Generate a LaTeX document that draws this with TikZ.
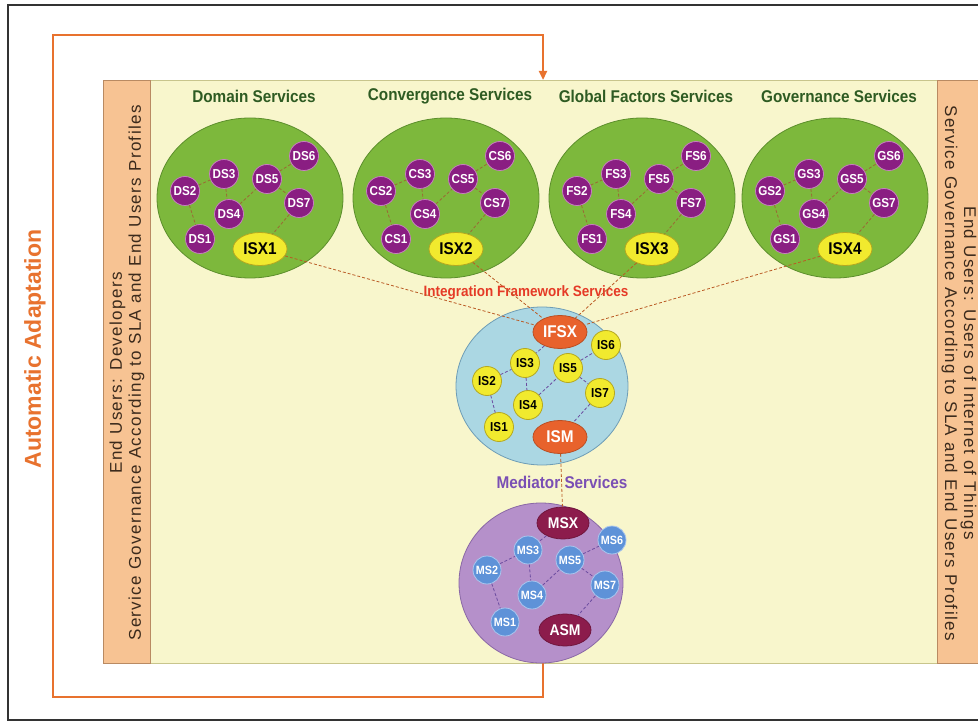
\documentclass[tikz,border=0pt]{standalone}
\usepackage{fontspec}
\setmainfont{Liberation Sans}
\newfontfamily\narrowfont[FakeStretch=0.9]{Liberation Sans}
\newfontfamily\barfont[LetterSpace=8]{Liberation Sans}
\usetikzlibrary{shapes.geometric,arrows.meta}

\definecolor{panelYellow}{HTML}{F8F6CC}
\definecolor{panelRim}{HTML}{C8C58C}
\definecolor{barPeach}{HTML}{F7C393}
\definecolor{barRim}{HTML}{B98A62}
\definecolor{barText}{HTML}{3B2A1C}
\definecolor{loopOrange}{HTML}{E8722E}
\definecolor{cloudGreen}{HTML}{7DB83C}
\definecolor{cloudRim}{HTML}{5C8E2C}
\definecolor{titleGreen}{HTML}{2E5B22}
\definecolor{dsPurple}{HTML}{8A1E82}
\definecolor{dsRim}{HTML}{C77FC0}
\definecolor{hubYellow}{HTML}{F1EA2E}
\definecolor{hubRim}{HTML}{B5A820}
\definecolor{intBlue}{HTML}{ABD7E3}
\definecolor{intRim}{HTML}{6E9DB6}
\definecolor{hubOrange}{HTML}{E8622C}
\definecolor{medPurple}{HTML}{B590CA}
\definecolor{medRim}{HTML}{8A68A6}
\definecolor{msBlue}{HTML}{5E92D8}
\definecolor{msRim}{HTML}{A9C6EE}
\definecolor{hubMaroon}{HTML}{8C1C4C}
\definecolor{linkBrown}{HTML}{9A6A35}
\definecolor{linkPurple}{HTML}{6C4CA0}
\definecolor{intRed}{HTML}{E53A26}
\definecolor{medText}{HTML}{7A4FB4}

\tikzset{
  svc/.style={circle,minimum size=29pt,inner sep=0pt,line width=0.8pt,
    font=\narrowfont\fontsize{13}{13}\selectfont\bfseries},
  dsnode/.style={svc,fill=dsPurple,draw=dsRim,text=white},
  isnode/.style={svc,fill=hubYellow,draw=hubRim,text=black},
  msnode/.style={svc,minimum size=28pt,fill=msBlue,draw=msRim,text=white,
    font=\narrowfont\fontsize{12}{12}\selectfont\bfseries},
  hub/.style={ellipse,minimum width=54pt,minimum height=33pt,inner sep=0pt,line width=0.8pt,
    font=\narrowfont\fontsize{17}{17}\selectfont\bfseries},
  isx/.style={hub,fill=hubYellow,draw=hubRim,text=black},
  ifs/.style={hub,fill=hubOrange,draw=hubOrange!80!black,text=white},
  msx/.style={hub,minimum width=52pt,minimum height=32pt,fill=hubMaroon,draw=hubMaroon!80!black,text=white,
    font=\narrowfont\fontsize{15.5}{15.5}\selectfont\bfseries},
  cloud/.style={ellipse,inner sep=0pt,line width=0.8pt},
  link/.style={densely dashed,line width=0.8pt,linkBrown},
  plink/.style={densely dashed,line width=0.8pt,linkPurple},
  title/.style={font=\narrowfont\fontsize{17}{17}\selectfont\bfseries},
  bartext/.style={align=center,text=barText,font=\barfont\fontsize{17}{19}\selectfont},
  feedback/.style={line width=2.4pt,loopOrange}
}

\begin{document}
\begin{tikzpicture}[x=1pt,y=-1pt]
\useasboundingbox (0,0) rectangle (978,722);
\clip (0,0) rectangle (978,722);
\fill[white] (0,0) rectangle (978,722);
\draw[line width=1.5pt,black!80] (8,5) rectangle (990,720);

% panel and side bars
\fill[panelYellow,draw=panelRim,line width=0.8pt] (150,80) rectangle (937,663);
\fill[barPeach,draw=barRim,line width=0.8pt] (103,80) rectangle (150,663);
\fill[barPeach,draw=barRim,line width=0.8pt] (937,80) rectangle (995,663);
\node[bartext,rotate=90] (devbar) at (127,373) {End Users: Developers\\Service Governance According to SLA and End Users Profiles};
\node[bartext,rotate=-90] (iotbar) at (959,373) {End Users: Users of Internet of Things\\Service Governance According to SLA and End Users Profiles};

% feedback loop
\coordinate (fbout) at (543,663);
\coordinate (fbin) at (543,80);
\draw[feedback,-{Triangle[length=9pt,width=8pt]}] (fbout) -- (543,697) -- (53,697) -- (53,35) -- (543,35) -- (fbin);
\node[rotate=90,text=loopOrange,font=\fontsize{23}{23}\selectfont\bfseries] (adapt) at (35,349) {Automatic Adaptation};

% four service clouds
\foreach \p/\cx/\k/\name in {D/250/1/Domain Services,C/446/2/Convergence Services,F/642/3/Global Factors Services,G/835/4/Governance Services}{
  \node[title,text=titleGreen] (T\k) at (\cx+4,96) {\name};
  \node[cloud,fill=cloudGreen,draw=cloudRim,minimum width=186pt,minimum height=160pt] (cloud\k) at (\cx,198) {};
  \begin{scope}[shift={(\cx,197)}]
    \node[dsnode] (\p S1) at (-50,42) {\p S1};
    \node[dsnode] (\p S2) at (-65,-6) {\p S2};
    \node[dsnode] (\p S3) at (-26,-23) {\p S3};
    \node[dsnode] (\p S4) at (-21,17) {\p S4};
    \node[dsnode] (\p S5) at (17,-18) {\p S5};
    \node[dsnode] (\p S6) at (54,-41) {\p S6};
    \node[dsnode] (\p S7) at (49,6) {\p S7};
    \node[isx] (ISX\k) at (10,52) {ISX\k};
  \end{scope}
  \draw[link] (\p S2) -- (\p S3);
  \draw[link] (\p S3) -- (\p S4);
  \draw[link] (\p S2) -- (\p S1);
  \draw[link] (\p S4) -- (\p S5);
  \draw[link] (\p S5) -- (\p S6);
  \draw[link] (\p S5) -- (\p S7);
  \draw[link] (\p S7) -- (ISX\k);
}

% integration framework services
\node[cloud,fill=intBlue,draw=intRim,minimum width=172pt,minimum height=158pt] (intcloud) at (542,386) {};
\node[text=intRed,font=\narrowfont\fontsize{15}{15}\selectfont\bfseries] (inttitle) at (526,293) {Integration Framework Services};
\node[ifs] (IFSX) at (560,332) {IFSX};
\node[isnode] (IS6) at (606,345) {IS6};
\node[isnode] (IS3) at (525,363) {IS3};
\node[isnode] (IS5) at (568,368) {IS5};
\node[isnode] (IS2) at (487,381) {IS2};
\node[isnode] (IS7) at (600,393) {IS7};
\node[isnode] (IS4) at (528,405) {IS4};
\node[isnode] (IS1) at (499,427) {IS1};
\node[ifs] (ISM) at (560,437) {ISM};
\draw[plink] (IFSX) -- (IS3);
\draw[plink] (IS2) -- (IS3);
\draw[plink] (IS3) -- (IS4);
\draw[plink] (IS2) -- (IS1);
\draw[plink] (IS4) -- (IS5);
\draw[plink] (IS5) -- (IS6);
\draw[plink] (IS5) -- (IS7);
\draw[plink] (IS7) -- (ISM);
\foreach \k in {1,...,4}
  \draw[link,loopOrange!80!black] (ISX\k) -- (IFSX);

% mediator services
\node[cloud,fill=medPurple,draw=medRim,minimum width=164pt,minimum height=160pt] (medcloud) at (541,583) {};
\node[text=medText,font=\narrowfont\fontsize{17}{17}\selectfont\bfseries] (medtitle) at (562,482) {Mediator Services};
\node[msx] (MSX) at (563,523) {MSX};
\node[msnode] (MS6) at (612,540) {MS6};
\node[msnode] (MS3) at (528,550) {MS3};
\node[msnode] (MS5) at (570,560) {MS5};
\node[msnode] (MS2) at (487,570) {MS2};
\node[msnode] (MS7) at (605,585) {MS7};
\node[msnode] (MS4) at (532,595) {MS4};
\node[msnode] (MS1) at (505,622) {MS1};
\node[msx] (ASM) at (565,630) {ASM};
\draw[plink] (MSX) -- (MS3);
\draw[plink] (MS2) -- (MS3);
\draw[plink] (MS3) -- (MS4);
\draw[plink] (MS2) -- (MS1);
\draw[plink] (MS4) -- (MS5);
\draw[plink] (MS5) -- (MS6);
\draw[plink] (MS5) -- (MS7);
\draw[plink] (MS7) -- (ASM);
\draw[link,loopOrange!80!black] (ISM) -- (MSX);
\end{tikzpicture}
\end{document}
